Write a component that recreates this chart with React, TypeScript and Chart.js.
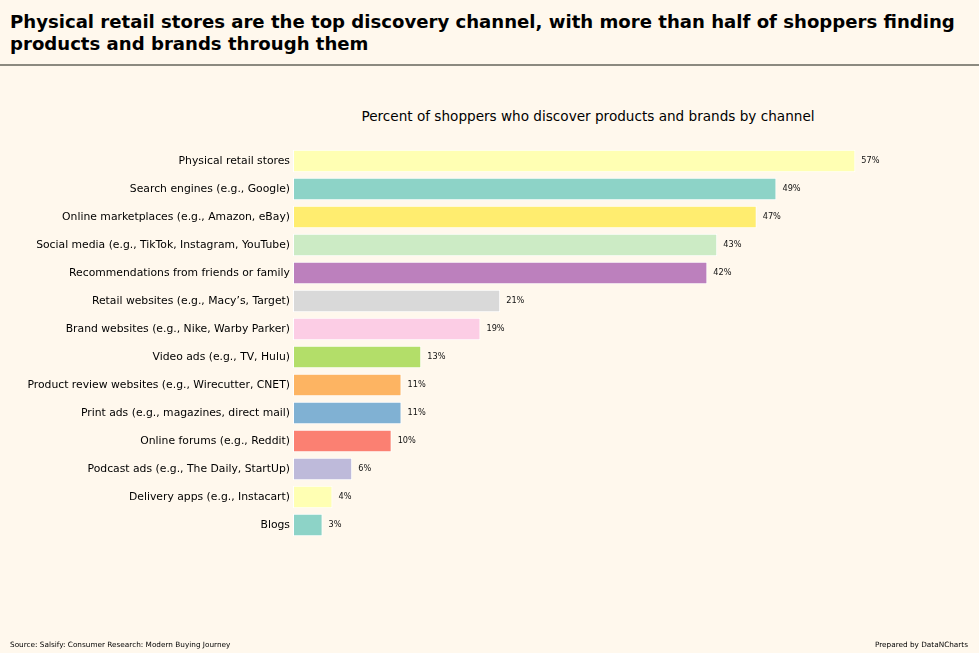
import React, { useEffect, useRef } from "react";
import { Chart, registerables } from "chart.js";

Chart.register(...registerables);

const categories = [
  "Physical retail stores",
  "Search engines (e.g., Google)",
  "Online marketplaces (e.g., Amazon, eBay)",
  "Social media (e.g., TikTok, Instagram, YouTube)",
  "Recommendations from friends or family",
  "Retail websites (e.g., Macy\u2019s, Target)",
  "Brand websites (e.g., Nike, Warby Parker)",
  "Video ads (e.g., TV, Hulu)",
  "Product review websites (e.g., Wirecutter, CNET)",
  "Print ads (e.g., magazines, direct mail)",
  "Online forums (e.g., Reddit)",
  "Podcast ads (e.g., The Daily, StartUp)",
  "Delivery apps (e.g., Instacart)",
  "Blogs",
];
const values = [57, 49, 47, 43, 42, 21, 19, 13, 11, 11, 10, 6, 4, 3];
const barColors = [
  "#ffffb3", "#8dd3c7", "#ffed6f", "#ccebc5", "#bc80bd", "#d9d9d9", "#fccde5",
  "#b3de69", "#fdb462", "#80b1d3", "#fb8072", "#bebada", "#ffffb3", "#8dd3c7",
];
const xMax = 59.7;

const titleText =
  "Physical retail stores are the top discovery channel, with more than half of shoppers finding products and brands through them";
const subtitleText = "Percent of shoppers who discover products and brands by channel";
const sourceText = "Source: Salsify: Consumer Research: Modern Buying Journey";
const creditText = "Prepared by DataNCharts";

const BG = "#fff8ed";
const FONT = "'DejaVu Sans', sans-serif";

const valueLabels = {
  id: "valueLabels",
  afterDatasetsDraw(chart: any) {
    const ctx = chart.ctx;
    const meta = chart.getDatasetMeta(0);
    ctx.save();
    ctx.font = "8.2px 'DejaVu Sans', sans-serif";
    ctx.fillStyle = "#111";
    ctx.textAlign = "left";
    ctx.textBaseline = "middle";
    meta.data.forEach((bar: any, i: number) => {
      ctx.fillText(values[i] + "%", bar.x + 6, bar.y);
    });
    ctx.restore();
  },
};

export default function App() {
  const ref = useRef<HTMLCanvasElement>(null);
  useEffect(() => {
    document.body.style.margin = "0";
    const chart = new Chart(ref.current!, {
      type: "bar",
      data: {
        labels: categories,
        datasets: [
          {
            data: values,
            backgroundColor: barColors,
            borderColor: "#ffffff",
            borderWidth: 1,
            borderSkipped: false,
            barPercentage: 0.8,
            categoryPercentage: 1,
          },
        ],
      },
      options: {
        indexAxis: "y",
        animation: false,
        responsive: false,
        layout: { padding: { left: 0, right: 97, top: 147, bottom: 114 } },
        plugins: { legend: { display: false }, tooltip: { enabled: false } },
        scales: {
          x: { display: false, min: 0, max: xMax },
          y: {
            grid: { display: false, drawTicks: false },
            border: { display: false },
            ticks: { color: "#000", font: { family: FONT, size: 10.8 }, padding: 3 },
            afterFit: (s: any) => {
              s.width = 293;
            },
          },
        },
      },
      plugins: [valueLabels],
    });
    return () => chart.destroy();
  }, []);

  return (
    <div style={{ position: "relative", width: 979, height: 653, background: BG, overflow: "hidden", fontFamily: FONT }}>
      <div style={{ position: "absolute", left: 10, top: 11, width: 965, fontWeight: "bold", fontSize: 18.1, lineHeight: "22px", color: "#000" }}>
        {titleText}
      </div>
      <div style={{ position: "absolute", left: 0, top: 64, width: 979, height: 1.5, background: "#8c8a80" }} />
      <div style={{ position: "absolute", left: 294, width: 588, top: 108, textAlign: "center", fontSize: 13.6, color: "#000" }}>
        {subtitleText}
      </div>
      <canvas ref={ref} width={979} height={653} style={{ position: "absolute", left: 0, top: 0 }} />
      <div style={{ position: "absolute", left: 10, top: 640, fontSize: 7.3, color: "#000" }}>{sourceText}</div>
      <div style={{ position: "absolute", right: 11, top: 640, fontSize: 7.3, color: "#000" }}>{creditText}</div>
    </div>
  );
}
